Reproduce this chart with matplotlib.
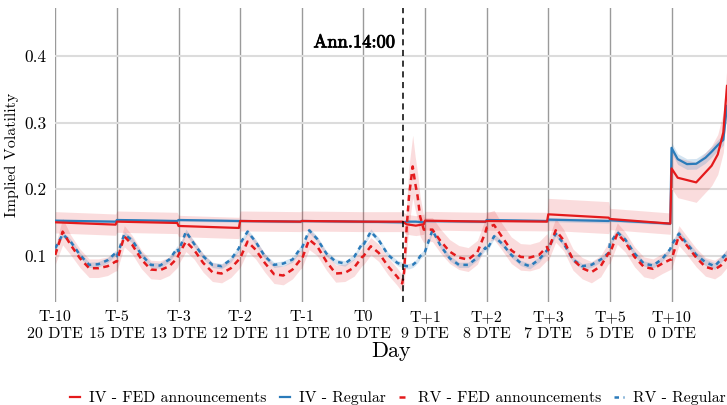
import matplotlib.pyplot as plt
import matplotlib.patheffects as pe
import numpy as np

plt.rcParams["font.family"] = ["cmr10", "DejaVu Serif"]
plt.rcParams["mathtext.fontset"] = "cm"
plt.rcParams["axes.formatter.use_mathtext"] = True

RED = "#e41a1c"
BLUE = "#2b7bba"

day_labels = [
    "T-10\n20 DTE", "T-5\n15 DTE", "T-3\n13 DTE", "T-2\n12 DTE", "T-1\n11 DTE",
    "T0\n10 DTE", "T+1\n9 DTE", "T+2\n8 DTE", "T+3\n7 DTE", "T+5\n5 DTE",
    "T+10\n0 DTE",
]
announcement_time = 5.65

# realised vol, intraday samples (day index + fraction of trading day)
rv_time = [
    0.00, 0.12, 0.25, 0.40, 0.55, 0.70, 0.85, 0.98,
    1.00, 1.12, 1.25, 1.40, 1.55, 1.70, 1.85, 1.98,
    2.00, 2.12, 2.25, 2.40, 2.55, 2.70, 2.85, 2.98,
    3.00, 3.12, 3.25, 3.40, 3.55, 3.70, 3.85, 3.98,
    4.00, 4.12, 4.25, 4.40, 4.55, 4.70, 4.85, 4.98,
    5.00, 5.12, 5.25, 5.40, 5.55, 5.63, 5.66, 5.70, 5.74, 5.80, 5.84, 5.88, 5.92, 5.98,
    6.00, 6.12, 6.25, 6.40, 6.55, 6.70, 6.85, 6.98,
    7.00, 7.12, 7.25, 7.40, 7.55, 7.70, 7.85, 7.98,
    8.00, 8.12, 8.25, 8.40, 8.55, 8.70, 8.85, 8.98,
    9.00, 9.12, 9.25, 9.40, 9.55, 9.70, 9.85, 9.98,
    10.00, 10.12, 10.25, 10.40, 10.55, 10.70, 10.80, 10.90,
]
rv_regular = [
    0.111, 0.132, 0.121, 0.101, 0.086, 0.087, 0.093, 0.104,
    0.099, 0.132, 0.123, 0.101, 0.086, 0.085, 0.094, 0.111,
    0.106, 0.136, 0.118, 0.099, 0.086, 0.084, 0.094, 0.111,
    0.118, 0.136, 0.121, 0.099, 0.086, 0.088, 0.094, 0.111,
    0.111, 0.138, 0.125, 0.103, 0.091, 0.088, 0.098, 0.118,
    0.116, 0.136, 0.123, 0.101, 0.089, 0.086, 0.085, 0.084, 0.084, 0.086, 0.089, 0.093, 0.099, 0.104,
    0.106, 0.138, 0.115, 0.096, 0.086, 0.086, 0.097, 0.112,
    0.108, 0.129, 0.118, 0.101, 0.089, 0.084, 0.094, 0.108,
    0.111, 0.133, 0.118, 0.094, 0.084, 0.086, 0.094, 0.104,
    0.118, 0.135, 0.124, 0.103, 0.088, 0.085, 0.095, 0.110,
    0.116, 0.133, 0.118, 0.101, 0.090, 0.084, 0.094, 0.104,
]
rv_fed = [
    0.101, 0.136, 0.116, 0.096, 0.081, 0.081, 0.084, 0.091,
    0.091, 0.129, 0.116, 0.094, 0.079, 0.078, 0.084, 0.096,
    0.101, 0.121, 0.109, 0.089, 0.075, 0.073, 0.081, 0.094,
    0.096, 0.121, 0.109, 0.089, 0.072, 0.070, 0.079, 0.094,
    0.094, 0.124, 0.114, 0.091, 0.073, 0.074, 0.082, 0.098,
    0.099, 0.114, 0.104, 0.084, 0.068, 0.058, 0.075, 0.139, 0.189, 0.234, 0.209, 0.189, 0.159, 0.139,
    0.139, 0.139, 0.122, 0.106, 0.097, 0.094, 0.105, 0.135,
    0.142, 0.146, 0.128, 0.108, 0.098, 0.097, 0.101, 0.113,
    0.108, 0.138, 0.123, 0.094, 0.081, 0.075, 0.084, 0.104,
    0.103, 0.133, 0.120, 0.098, 0.083, 0.080, 0.088, 0.094,
    0.094, 0.130, 0.115, 0.097, 0.083, 0.079, 0.085, 0.096,
]
rv_fed_band = [
    0.014, 0.020, 0.015, 0.014, 0.014, 0.014, 0.014, 0.014,
    0.014, 0.016, 0.014, 0.014, 0.014, 0.014, 0.014, 0.014,
    0.014, 0.015, 0.014, 0.014, 0.014, 0.014, 0.014, 0.014,
    0.014, 0.015, 0.014, 0.014, 0.014, 0.014, 0.014, 0.014,
    0.013, 0.015, 0.014, 0.013, 0.013, 0.013, 0.013, 0.013,
    0.013, 0.013, 0.013, 0.013, 0.013, 0.013, 0.020, 0.035, 0.045, 0.047, 0.040, 0.035, 0.030, 0.020,
    0.018, 0.018, 0.018, 0.018, 0.018, 0.018, 0.018, 0.020,
    0.022, 0.022, 0.020, 0.020, 0.020, 0.020, 0.020, 0.020,
    0.016, 0.018, 0.016, 0.016, 0.016, 0.016, 0.016, 0.016,
    0.015, 0.016, 0.015, 0.015, 0.015, 0.015, 0.015, 0.015,
    0.014, 0.015, 0.014, 0.014, 0.014, 0.014, 0.014, 0.014,
]
rv_regular_band_by_day = [0.004, 0.004, 0.004, 0.004, 0.004, 0.004, 0.004, 0.004, 0.004, 0.004, 0.005]

# implied vol
iv_time = [
    0.00, 0.98, 1.00, 1.98, 2.00, 2.98, 3.00, 3.98, 4.00, 4.98,
    5.00, 5.64, 5.70, 5.85, 5.98,
    6.00, 6.98, 7.00, 7.98, 8.00, 8.98, 9.00, 9.98,
    10.00, 10.10, 10.25, 10.40, 10.55, 10.65, 10.75, 10.84, 10.90,
]
iv_regular = [
    0.1525, 0.151, 0.1535, 0.152, 0.1535, 0.152, 0.152, 0.151, 0.152, 0.151,
    0.151, 0.150, 0.151, 0.151, 0.150,
    0.152, 0.151, 0.1535, 0.152, 0.154, 0.152, 0.153, 0.148,
    0.262, 0.245, 0.2375, 0.238, 0.247, 0.256, 0.266, 0.274, 0.325,
]
iv_fed = [
    0.150, 0.1465, 0.151, 0.149, 0.1445, 0.1415, 0.152, 0.151, 0.152, 0.151,
    0.151, 0.151, 0.147, 0.145, 0.147,
    0.1525, 0.151, 0.152, 0.151, 0.162, 0.157, 0.155, 0.148,
    0.231, 0.217, 0.2135, 0.210, 0.225, 0.235, 0.252, 0.285, 0.355,
]
iv_regular_band_by_day = [0.002, 0.002, 0.002, 0.002, 0.002, 0.002, 0.002, 0.002, 0.003, 0.002, 0.008]
iv_fed_band_by_day = [0.016, 0.016, 0.016, 0.015, 0.015, 0.015, 0.014, 0.014, 0.024, 0.016, 0.030]


def per_day(t, widths):
    idx = np.minimum(np.floor(np.asarray(t) + 1e-9), len(widths) - 1).astype(int)
    return np.asarray(widths)[idx]


fig = plt.figure(figsize=(7.27, 4.05), dpi=100)
ax = fig.add_axes([0.076, 0.254, 0.924, 0.726])

for s in ax.spines.values():
    s.set_visible(False)
ax.set_xlim(0, 10.9)
ax.set_ylim(0.03, 0.472)
ax.set_yticks([0.1, 0.2, 0.3, 0.4])
ax.set_yticklabels(["0.1", "0.2", "0.3", "0.4"])
ax.set_xticks(range(len(day_labels)))
ax.set_xticklabels(day_labels, linespacing=1.3)
ax.tick_params(length=0, pad=6)
ax.tick_params(axis="x", labelsize=11.5)
ax.tick_params(axis="y", labelsize=12.5)
ax.grid(axis="y", color="#dcdcdc", lw=1.5, zorder=0)
for d in range(len(day_labels)):
    ax.axvline(d, color="#9a9a9a", lw=1.0, zorder=1)

# bands
t_rv = np.asarray(rv_time)
t_iv = np.asarray(iv_time)
rv_reg = np.asarray(rv_regular)
rv_f = np.asarray(rv_fed)
iv_reg = np.asarray(iv_regular)
iv_f = np.asarray(iv_fed)

w = per_day(t_iv, iv_fed_band_by_day)
ax.fill_between(t_iv, iv_f - w, iv_f + w, color=RED, alpha=0.15, lw=0, zorder=2)
w = per_day(t_iv, iv_regular_band_by_day)
ax.fill_between(t_iv, iv_reg - w, iv_reg + w, color=BLUE, alpha=0.2, lw=0, zorder=2)
w = np.asarray(rv_fed_band)
ax.fill_between(t_rv, rv_f - w, rv_f + w, color=RED, alpha=0.15, lw=0, zorder=2)
w = per_day(t_rv, rv_regular_band_by_day)
ax.fill_between(t_rv, rv_reg - w, rv_reg + w, color=BLUE, alpha=0.2, lw=0, zorder=2)

# lines
(l_iv_reg,) = ax.plot(t_iv, iv_reg, color=BLUE, lw=1.6, zorder=3, label="IV - Regular")
(l_iv_fed,) = ax.plot(t_iv, iv_f, color=RED, lw=1.6, zorder=4, label="IV - FED announcements")
(l_rv_reg,) = ax.plot(t_rv, rv_reg, color=BLUE, lw=1.8, ls=(0, (1.8, 1.8)), zorder=3,
                      label="RV - Regular")
(l_rv_fed,) = ax.plot(t_rv, rv_f, color=RED, lw=1.8, ls=(0, (2.4, 1.8)), zorder=4,
                      label="RV - FED announcements")

ax.axvline(announcement_time, color="black", lw=1.1, ls=(0, (4, 3)), zorder=5)
ax.text(announcement_time - 0.14, 0.42, "Ann.14:00", fontsize=13.3, ha="right", va="center",
        path_effects=[pe.withStroke(linewidth=0.6, foreground="black")])

ax.set_ylabel("Implied Volatility", fontsize=11.5, labelpad=4)
ax.set_xlabel("Day", fontsize=16, labelpad=0)

fig.legend(
    handles=[l_iv_fed, l_iv_reg, l_rv_fed, l_rv_reg],
    loc="lower right",
    bbox_to_anchor=(1.018, -0.035),
    ncol=4,
    frameon=False,
    fontsize=11.3,
    handlelength=0.64,
    handletextpad=0.57,
    columnspacing=0.85,
)

fig.savefig("out.png", dpi=100)
